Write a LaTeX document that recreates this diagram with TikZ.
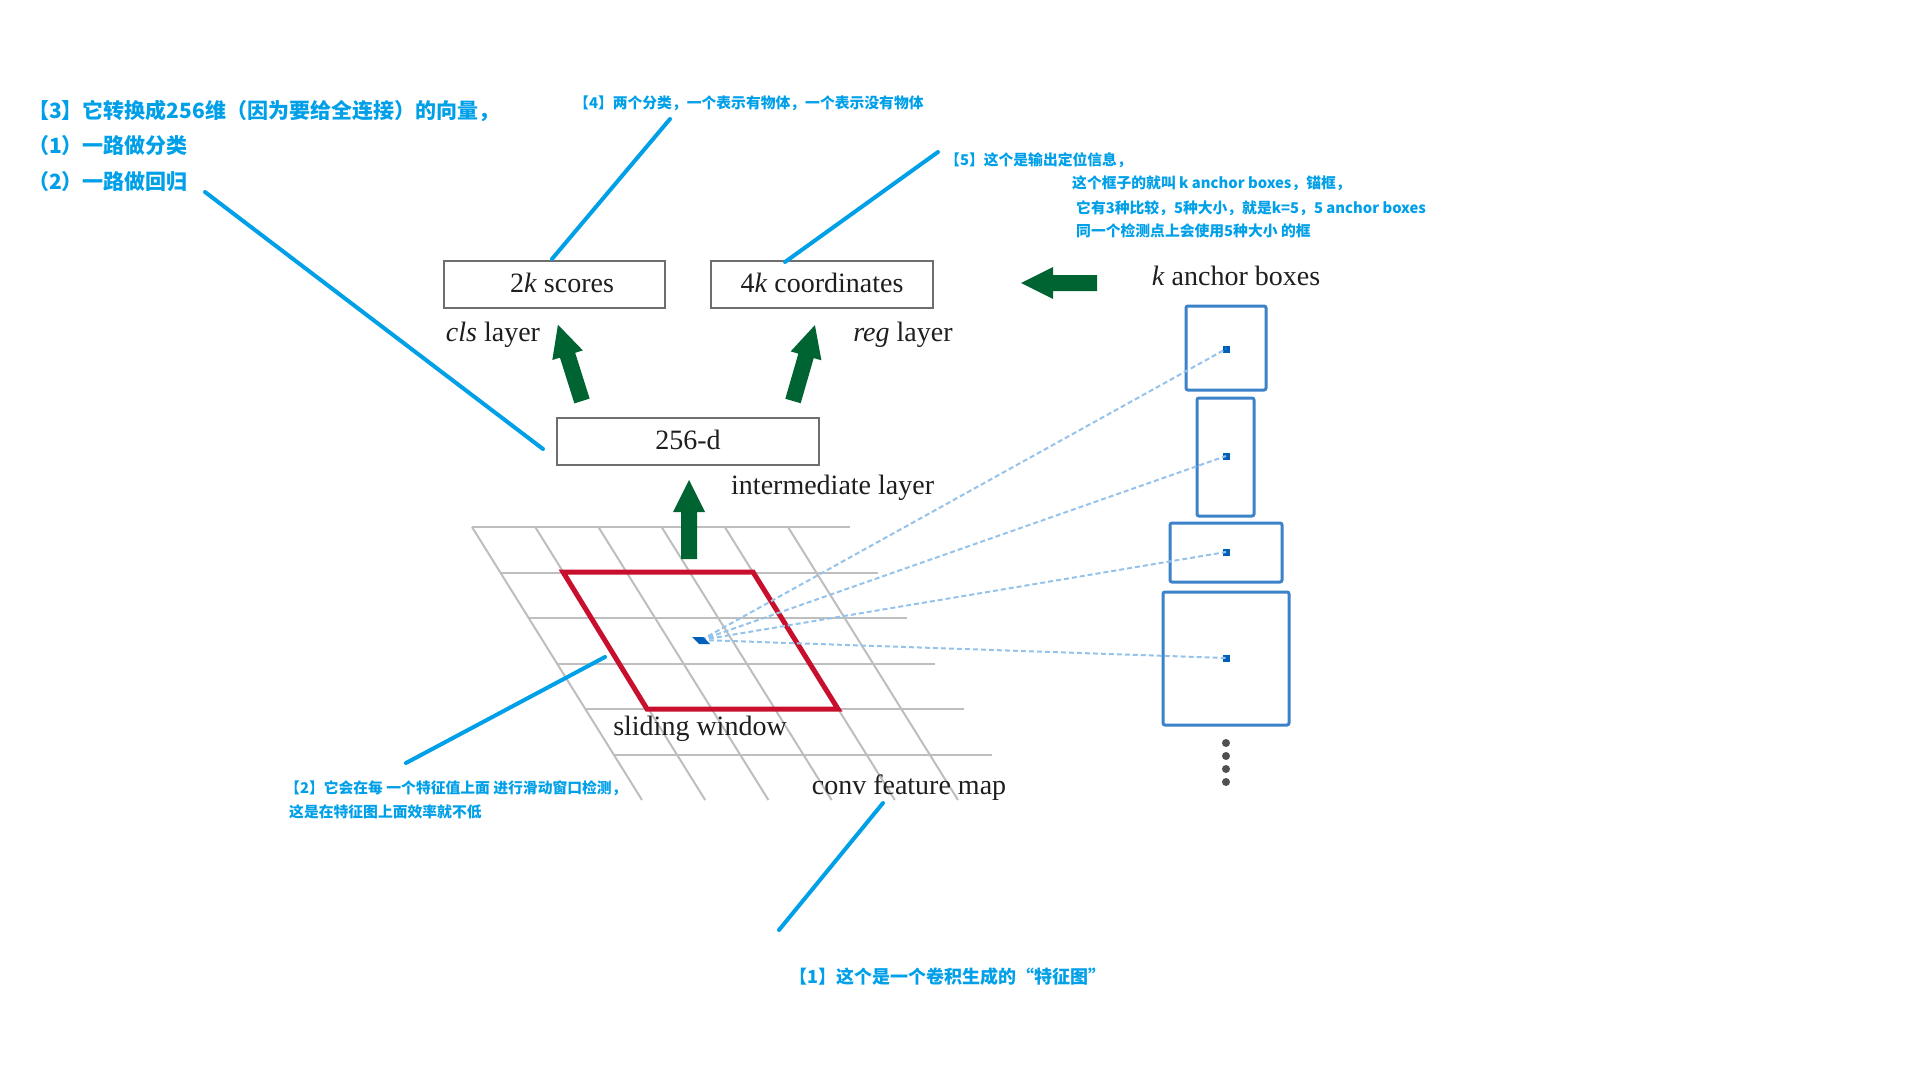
\documentclass[tikz,border=0pt]{standalone}
\usepackage{fontspec}
\setmainfont{Liberation Serif}
\newfontfamily\cjk{Noto Sans CJK SC}
\definecolor{annblue}{RGB}{0,160,233}
\definecolor{arrgreen}{RGB}{0,100,50}
\definecolor{winred}{RGB}{200,16,46}
\definecolor{gridgray}{RGB}{190,190,190}
\definecolor{boxgray}{RGB}{110,110,110}
\definecolor{txtgray}{RGB}{30,30,30}
\definecolor{anchorblue}{RGB}{60,130,200}
\definecolor{dashblue}{RGB}{150,195,235}
\definecolor{dotblue}{RGB}{0,95,185}
\definecolor{dotgray}{RGB}{80,80,80}
\tikzset{
  ann/.style={font=\cjk\bfseries\fontsize{14.8}{18}\selectfont, text=annblue, anchor=west, inner sep=0pt},
  annbig/.style={font=\cjk\bfseries\fontsize{21}{24}\selectfont, text=annblue, anchor=west, inner sep=0pt},
  annmid/.style={font=\cjk\bfseries\fontsize{18}{21}\selectfont, text=annblue, anchor=west, inner sep=0pt},
  annline/.style={draw=annblue, line width=4pt, line cap=round},
  lbl/.style={font=\fontsize{28}{32}\selectfont, text=txtgray, inner sep=0pt},
  layerbox/.style={draw=boxgray, line width=2.5pt, fill=white, inner sep=0pt, minimum height=47pt},
  gridline/.style={draw=gridgray, line width=2pt},
  anchorbox/.style={draw=anchorblue, line width=3pt, rounded corners=2pt},
  anchordot/.style={fill=dotblue, inner sep=0pt, minimum size=7pt},
  dashray/.style={draw=dashblue, line width=2pt, dash pattern=on 5pt off 3pt},
  ellipsisdot/.style={circle, fill=dotgray, inner sep=0pt, minimum size=8pt},
  pics/blockarr/.style={code={
    \fill[arrgreen] (0,-8) -- ({#1-32},-8) -- ({#1-32},-16) -- (#1,0)
      -- ({#1-32},16) -- ({#1-32},8) -- (0,8) -- cycle;}}
}
\begin{document}
\begin{tikzpicture}[x=1pt,y=-1pt]
\useasboundingbox[fill=white] (0,0) rectangle (1923,1092);

% ---- feature map grid ----
\foreach \i in {0,...,5}{
  \draw[gridline] ({472+28.4*\i},{527+45.6*\i}) -- ({850+28.4*\i},{527+45.6*\i});
}
\foreach \j in {0,...,5}{
  \draw[gridline] ({472+63.2*\j},527) -- ({642+63.2*\j},800);
}
% sliding window
\draw[winred, line width=5pt, line join=miter] (563,572) -- (753,572) -- (838,709) -- (647,709) -- cycle;

% ---- anchor boxes ----
\draw[anchorbox] (1186,306) rectangle (1266,390);
\draw[anchorbox] (1197,398) rectangle (1254,516);
\draw[anchorbox] (1170,523) rectangle (1282,582);
\draw[anchorbox] (1163,592) rectangle (1289,725);
\node[anchordot] (d1) at (1226,349) {};
\node[anchordot] (d2) at (1226,456) {};
\node[anchordot] (d3) at (1226,552) {};
\node[anchordot] (d4) at (1226,658) {};
\foreach \y in {743,756,769,782}{ \node[ellipsisdot] at (1226,\y) {}; }

% center point and rays
\coordinate (src) at (701,640);
\foreach \d in {d1,d2,d3,d4}{ \draw[dashray] (src) -- (\d.center); }
\fill[dotblue] (692,637) -- (703,637) -- (710,644) -- (699,644) -- cycle;

% ---- layer boxes ----
\node[layerbox, minimum width=221pt] (cls) at (554.5,284.5) {};
\node[layerbox, minimum width=222pt] (reg) at (822,284.5) {};
\node[layerbox, minimum width=262pt] (mid) at (688,441.5) {};
\node[lbl] (clsT) at (562,283) {2\textit{k} scores};
\node[lbl] (regT) at (822,283) {4\textit{k} coordinates};
\node[lbl] (midT) at (688,440) {256-d};
\node[lbl] (clsL) at (493,335) {\textit{cls} layer};
\node[lbl] (regL) at (903,335) {\textit{reg} layer};
\node[lbl, anchor=west] (intL) at (731,488) {intermediate layer};
\node[lbl] (ancL) at (1236,276) {\textit{k} anchor boxes};
\node[lbl] (slwL) at (700,729) {sliding window};
\node[lbl] (cfmL) at (909,788) {conv feature map};

% ---- green block arrows ----
\coordinate (a1s) at (582,401);
\coordinate (a2s) at (793,401);
\coordinate (a3s) at (689,559);
\coordinate (a4s) at (1097,283);
\pic[rotate=107.5] at (a1s) {blockarr=80};
\pic[rotate=73.9] at (a2s) {blockarr=79};
\pic[rotate=90] at (a3s) {blockarr=79};
\pic[rotate=180] at (a4s) {blockarr=76};

% ---- annotations ----
\node[annbig] (n3a) at (28,111) {【3】它转换成256维（因为要给全连接）的向量，};
\node[annbig] (n3b) at (28,146) {（1）一路做分类};
\node[annbig] (n3c) at (28,182) {（2）一路做回归};
\node[ann] (n4) at (574,103) {【4】两个分类，一个表示有物体，一个表示没有物体};
\node[ann] (n5a) at (945,160) {【5】这个是输出定位信息，};
\node[ann] (n5b) at (1072,183) {这个框子的就叫 k anchor boxes，锚框，};
\node[ann] (n5c) at (1076,208) {它有3种比较，5种大小，就是k=5，5 anchor boxes};
\node[ann] (n5d) at (1076,231) {同一个检测点上会使用5种大小 的框};
\node[ann] (n2a) at (285,788) {【2】它会在每 一个特征值上面 进行滑动窗口检测，};
\node[ann] (n2b) at (289,812) {这是在特征图上面效率就不低};
\node[annmid] (n1) at (789,977) {【1】这个是一个卷积生成的“特征图”};

\coordinate (s3) at (205,192); \coordinate (e3) at (543,449);
\coordinate (s4) at (670,119); \coordinate (e4) at (552,259);
\coordinate (s5) at (938,152); \coordinate (e5) at (785,262);
\coordinate (s2) at (406,763); \coordinate (e2) at (605,657);
\coordinate (s1) at (779,930); \coordinate (e1) at (883,803);
\draw[annline] (s3) -- (e3);
\draw[annline] (s4) -- (e4);
\draw[annline] (s5) -- (e5);
\draw[annline] (s2) -- (e2);
\draw[annline] (s1) -- (e1);
\end{tikzpicture}
\end{document}
